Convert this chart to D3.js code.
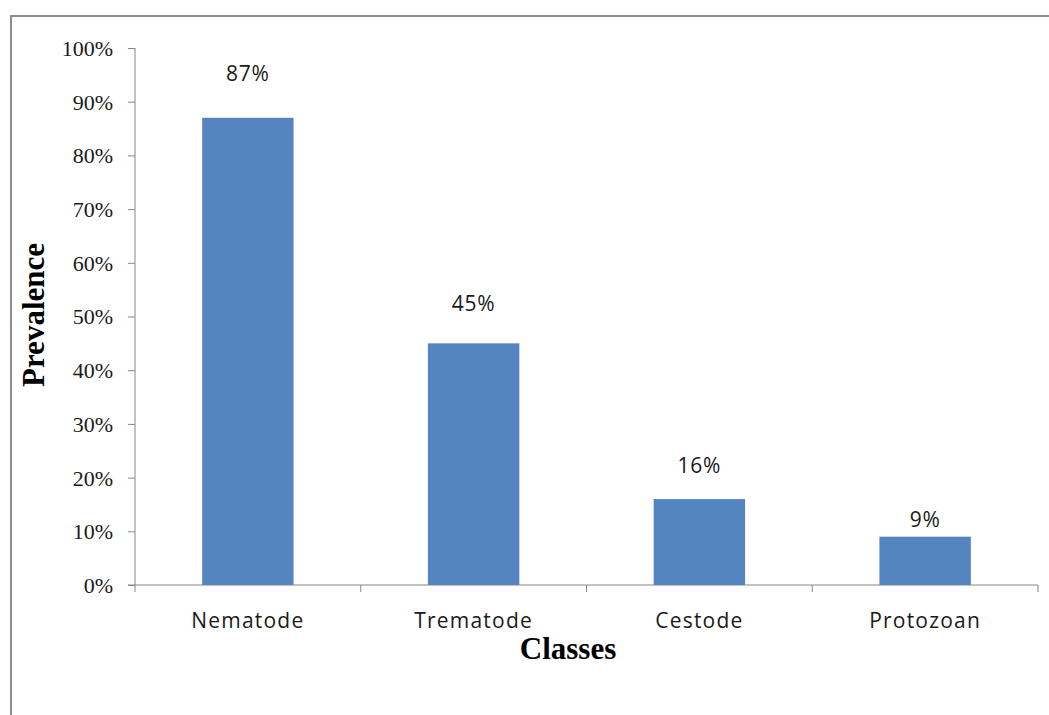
<!DOCTYPE html>
<html>
<head>
<meta charset="utf-8">
<script src="https://cdn.jsdelivr.net/npm/d3@7"></script>
<style>
  html, body { margin: 0; padding: 0; background: #fff; }
  svg { display: block; }
</style>
</head>
<body>
<svg id="chart" width="1049" height="715"></svg>
<script>
// ---- data ----
const categories = ["Nematode", "Trematode", "Cestode", "Protozoan"];
const prevalence = [87, 45, 16, 9];           // percent
const yTicks = [0, 10, 20, 30, 40, 50, 60, 70, 80, 90, 100];
const xTitle = "Classes";
const yTitle = "Prevalence";

// label lift above bar top (px) – styling, as placed in the original
const labelLift = [45, 40, 34, 18];

const svg = d3.select("#chart");
const W = 1049, H = 715;
const plot = { left: 135, right: 1038, top: 48, bottom: 585 };

// outer chart border (extends beyond the picture on right/bottom)
svg.append("rect")
  .attr("x", 11).attr("y", 16)
  .attr("width", W + 20).attr("height", H + 20)
  .attr("fill", "#fff").attr("stroke", "#8c8c8c").attr("stroke-width", 2);

const x = d3.scaleBand().domain(categories).range([plot.left, plot.right]).padding(0);
const y = d3.scaleLinear().domain([0, 100]).range([plot.bottom, plot.top]);

const axisColor = "#868686";

// y axis
const yAxis = d3.axisLeft(y).tickValues(yTicks).tickFormat(d => d + "%").tickSize(7).tickPadding(15);
const gy = svg.append("g").attr("transform", `translate(${plot.left},0)`).call(yAxis);
gy.select(".domain").attr("stroke", axisColor).attr("d", `M0,${plot.top}V${plot.bottom}`);
gy.selectAll(".tick line").attr("stroke", axisColor);
gy.selectAll(".tick text")
  .attr("font-family", "'Liberation Serif', 'Times New Roman', serif")
  .attr("font-size", 22).attr("fill", "#1a1a1a").attr("dy", "0.34em");

// x axis line + boundary ticks
const bounds = categories.map(c => x(c)).concat([plot.right]);
svg.append("line")
  .attr("x1", plot.left - 7).attr("x2", plot.right)
  .attr("y1", plot.bottom).attr("y2", plot.bottom)
  .attr("stroke", axisColor);
svg.selectAll(".xtick").data(bounds).enter().append("line")
  .attr("x1", d => d).attr("x2", d => d)
  .attr("y1", plot.bottom).attr("y2", plot.bottom + 7)
  .attr("stroke", axisColor);

// bars
const barW = x.bandwidth() * 0.405;
svg.selectAll(".bar").data(categories).enter().append("rect")
  .attr("x", c => x(c) + x.bandwidth() / 2 - barW / 2)
  .attr("y", (c, i) => y(prevalence[i]))
  .attr("width", barW)
  .attr("height", (c, i) => y(0) - y(prevalence[i]))
  .attr("fill", "#5585c0");

// data labels
svg.selectAll(".lbl").data(categories).enter().append("text")
  .attr("x", c => x(c) + x.bandwidth() / 2)
  .attr("y", (c, i) => y(prevalence[i]) - labelLift[i])
  .attr("text-anchor", "middle")
  .attr("dominant-baseline", "central")
  .attr("font-family", "'Open Sans', 'Noto Sans', sans-serif")
  .attr("font-size", 21).attr("letter-spacing", 0.8).attr("fill", "#1a1a1a")
  .text((c, i) => prevalence[i] + "%");

// category labels
svg.selectAll(".cat").data(categories).enter().append("text")
  .attr("x", c => x(c) + x.bandwidth() / 2)
  .attr("y", 620)
  .attr("text-anchor", "middle")
  .attr("dominant-baseline", "central")
  .attr("font-family", "'Open Sans', 'Noto Sans', sans-serif")
  .attr("font-size", 21).attr("letter-spacing", 1.2).attr("fill", "#1a1a1a")
  .text(c => c);

// axis titles
svg.append("text")
  .attr("x", 568).attr("y", 648)
  .attr("text-anchor", "middle").attr("dominant-baseline", "central")
  .attr("font-family", "'Liberation Serif', 'Times New Roman', serif")
  .attr("font-weight", "bold").attr("font-size", 31).attr("fill", "#000")
  .text(xTitle);

svg.append("text")
  .attr("transform", "translate(33,315) rotate(-90)")
  .attr("text-anchor", "middle").attr("dominant-baseline", "central")
  .attr("font-family", "'Liberation Serif', 'Times New Roman', serif")
  .attr("font-weight", "bold").attr("font-size", 31).attr("fill", "#000")
  .text(yTitle);
</script>
</body>
</html>
